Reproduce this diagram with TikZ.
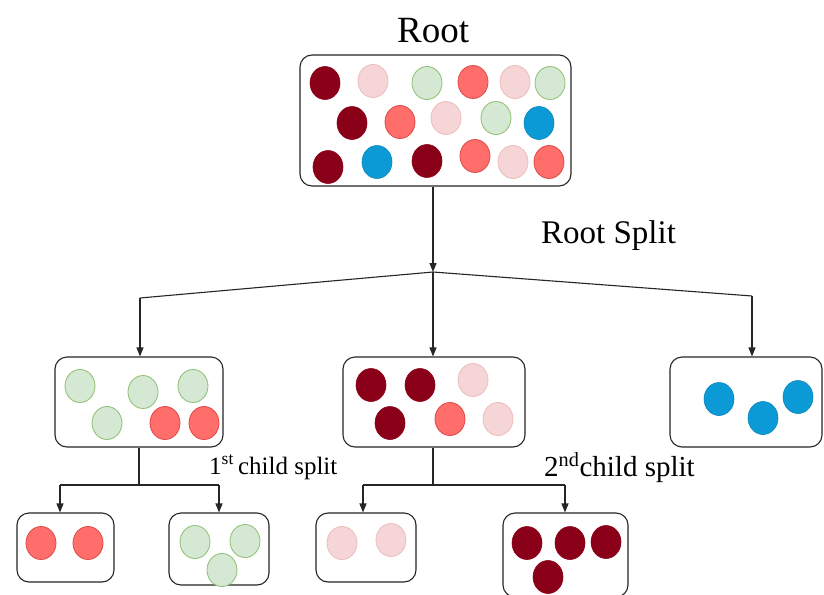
\documentclass[tikz,border=0pt]{standalone}
\usepackage{fontspec}
\setmainfont{Liberation Serif}
\usetikzlibrary{arrows.meta}
\definecolor{dred}{HTML}{8B0019}
\definecolor{pinkf}{HTML}{F5D5D5}
\definecolor{pinkd}{HTML}{EDBDBD}
\definecolor{greenf}{HTML}{D5E8D4}
\definecolor{greend}{HTML}{8CC070}
\definecolor{salf}{HTML}{FF6E6A}
\definecolor{sald}{HTML}{E04848}
\definecolor{bluef}{HTML}{0C9AD6}
\definecolor{blued}{HTML}{0A86BA}
\begin{document}
\begin{tikzpicture}[x=1pt,y=-1pt,
  box/.style={draw=black!85,line width=1.1pt,rounded corners=12pt,inner sep=0pt,fill=white},
  conn/.style={draw=black!85,line width=1.1pt},
  arr/.style={conn,-{Triangle[length=9pt,width=7pt]}},
  lbl/.style={inner sep=0pt,anchor=base west},
  dr/.style={fill=dred,draw=dred,line width=0.6pt},
  pk/.style={fill=pinkf,draw=pinkd,line width=0.8pt},
  gr/.style={fill=greenf,draw=greend,line width=0.8pt},
  sa/.style={fill=salf,draw=sald,line width=0.8pt},
  bl/.style={fill=bluef,draw=blued,line width=0.6pt}]
\useasboundingbox[fill=white] (0,0) rectangle (824,594);
% boxes
\node[box,minimum width=271pt,minimum height=131pt] (root) at (435.5,120.5) {};
\node[box,minimum width=168pt,minimum height=90pt] (ml) at (139,402) {};
\node[box,minimum width=182pt,minimum height=90pt] (mm) at (434,402) {};
\node[box,minimum width=152pt,minimum height=90pt] (mr) at (746,402) {};
\node[box,minimum width=97pt,minimum height=69pt] (ll) at (65.5,547.5) {};
\node[box,minimum width=100pt,minimum height=72pt] (lr) at (219,549) {};
\node[box,minimum width=100pt,minimum height=69pt] (bm) at (366,547.5) {};
\node[box,minimum width=125pt,minimum height=84pt] (br) at (565.5,555) {};
% texts
\node[lbl,font=\fontsize{37}{40}\selectfont] (troot) at (397,43) {Root};
\node[lbl,font=\fontsize{33}{36}\selectfont] (tsplit) at (541,243) {Root Split};
\node[lbl,font=\fontsize{25}{28}\selectfont] (tc1) at (209,474) {1\textsuperscript{st}\,child split};
\node[lbl,font=\fontsize{29}{32}\selectfont] (tc2) at (544,476) {2\textsuperscript{nd}child split};
% circles root
\foreach \s/\x/\y in {dr/325/83, pk/373/81, gr/427/83, sa/473/82, pk/515/82, gr/550/83,
  dr/352/123, sa/400/122, pk/446/118, gr/496/118, bl/539/123,
  dr/328/167, bl/377/162, dr/427/161, sa/475/156, pk/513/162, sa/549/162,
  gr/80/386, gr/143/392, gr/193/386, gr/107/423, sa/165/423, sa/204/423,
  dr/371/385, dr/420/385, pk/473/380, dr/390/423, sa/450/419, pk/498/419,
  bl/719/399, bl/763/418, bl/798/397,
  sa/41/543, sa/88/543,
  gr/195/542, gr/245/541, gr/222/570,
  pk/342/543, pk/391/540,
  dr/527/543, dr/570/543, dr/606/542, dr/548/577}
  \path[\s] (\x,\y) ellipse [x radius=15pt, y radius=16.5pt];
% connectors
\coordinate (J) at (433,272);
\coordinate (cL) at (140,298);
\coordinate (cR) at (752,296);
\draw[arr] (root.south -| J) -- (J);
\draw[conn] (J) -- (cL);
\draw[arr] (cL) -- (cL |- ml.north);
\draw[arr] (J) -- (J |- mm.north);
\draw[conn] (J) -- (cR);
\draw[arr] (cR) -- (cR |- mr.north);
% first child split
\coordinate (s1) at (139,485);
\coordinate (a1) at (60,485);
\coordinate (a2) at (219,485);
\draw[conn] (ml.south) -- (s1);
\draw[conn] (a1) -- (a2);
\draw[arr] (a1) -- (a1 |- ll.north);
\draw[arr] (a2) -- (a2 |- lr.north);
% second child split
\coordinate (s2) at (433,485);
\coordinate (b1) at (363,485);
\coordinate (b2) at (565,485);
\draw[conn] (mm.south -| s2) -- (s2);
\draw[conn] (b1) -- (b2);
\draw[arr] (b1) -- (b1 |- bm.north);
\draw[arr] (b2) -- (b2 |- br.north);
\end{tikzpicture}
\end{document}
